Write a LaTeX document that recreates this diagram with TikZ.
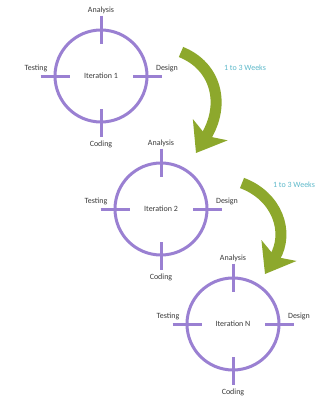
\documentclass[tikz,border=0pt]{standalone}
\usepackage{fontspec}
\setmainfont{Carlito}
\usetikzlibrary{arrows.meta,calc}
\definecolor{purp}{HTML}{9A80D2}
\definecolor{leaf}{HTML}{8DA82C}
\definecolor{weeks}{HTML}{5DB9CA}
\definecolor{txt}{HTML}{3A3A3A}
\tikzset{
  ring/.style={circle, draw=purp, line width=3pt, minimum size=92pt, inner sep=0pt,
    font=\fontsize{8}{9}\selectfont, text=txt},
  tick/.style={draw=purp, line width=3pt},
  lbl/.style={font=\fontsize{8}{9}\selectfont, text=txt, inner sep=0pt},
  wk/.style={font=\fontsize{8}{9}\selectfont, text=weeks, inner sep=0pt},
  bigarrow/.style={draw=leaf, line width=11pt,
    -{Stealth[length=27pt, width=40pt, inset=7pt]}}
}
\newcommand{\crossring}[4]{%
  \node[ring] (#1) at (#2,#3) {#4};
  \draw[tick] (#1.north) ++(0,-13) coordinate (#1n1) -- ++(0,28) coordinate (#1n2);
  \draw[tick] (#1.south) ++(0,13) coordinate (#1s1) -- ++(0,-28) coordinate (#1s2);
  \draw[tick] (#1.west) ++(-13,0) coordinate (#1w1) -- ++(29,0) coordinate (#1w2);
  \draw[tick] (#1.east) ++(13,0) coordinate (#1e1) -- ++(-29,0) coordinate (#1e2);
  \node[lbl] (#1a) at ($(#1)+(0,-66)$) {Analysis};
  \node[lbl] (#1t) at ($(#1)+(-65,-8)$) {Testing};
  \node[lbl] (#1d) at ($(#1)+(66,-8)$) {Design};
  \node[lbl] (#1c) at ($(#1)+(0,68)$) {Coding};
}
\begin{document}
\begin{tikzpicture}[x=1pt,y=-1pt]
\useasboundingbox (0,0) rectangle (326,400);
\fill[white] (0,0) rectangle (326,400);

\crossring{r1}{101}{76}{Iteration 1}
\crossring{r2}{161}{209}{Iteration 2}
\crossring{r3}{233}{324}{Iteration N}

\coordinate (a1s) at (181,52);
\coordinate (a1e) at (196,153);
\draw[bigarrow] (a1s) .. controls (216,66) and (226,104) .. (a1e);
\coordinate (a2s) at (242,183);
\coordinate (a2e) at (265,274);
\draw[bigarrow] (a2s) .. controls (277,196) and (290,232) .. (a2e);

\node[wk] (w1) at (245,68) {1 to 3 Weeks};
\node[wk] (w2) at (294,185) {1 to 3 Weeks};
\end{tikzpicture}
\end{document}
